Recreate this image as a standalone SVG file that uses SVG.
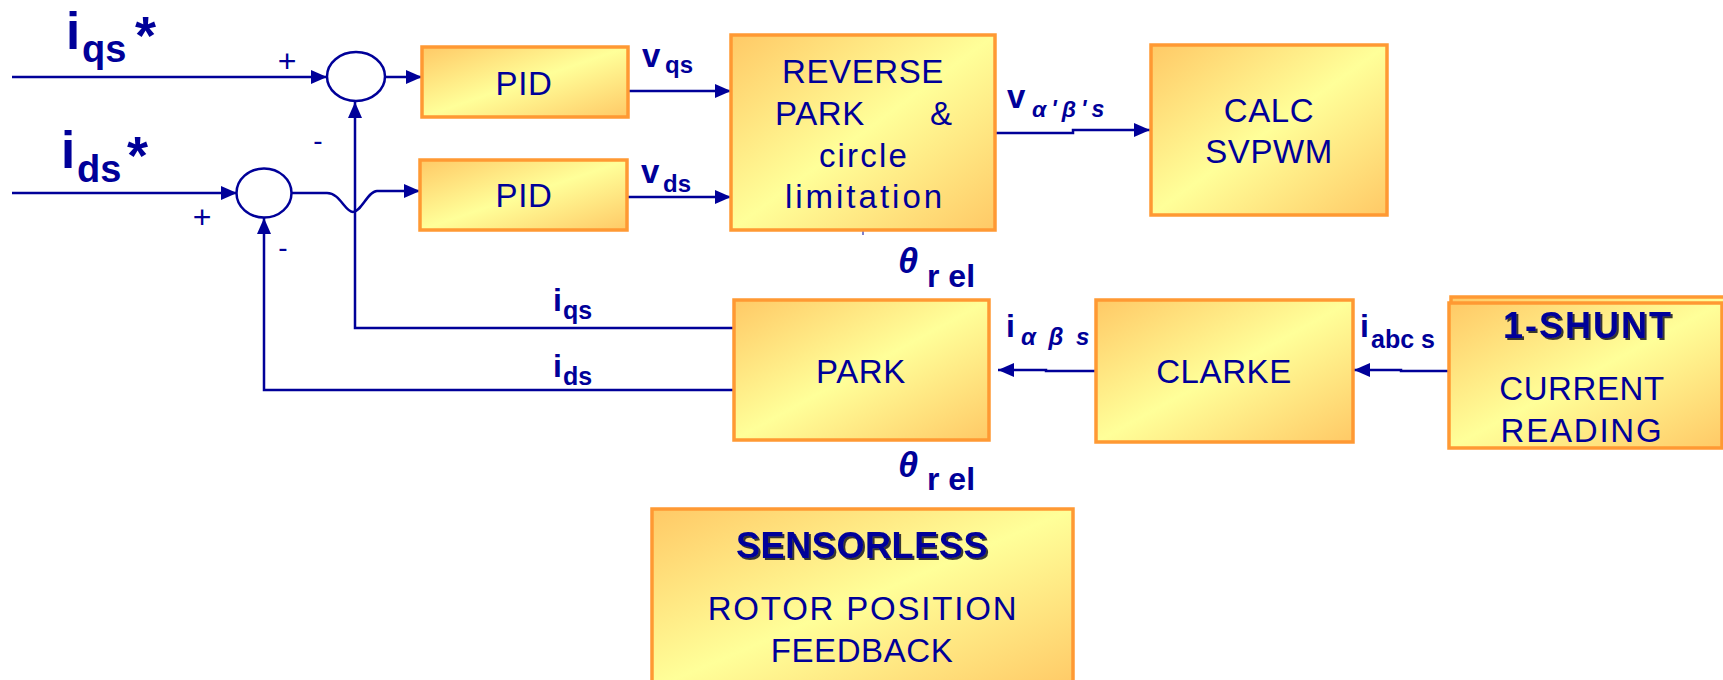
<svg xmlns="http://www.w3.org/2000/svg" width="1723" height="680" viewBox="0 0 1723 680">
<defs>
  <linearGradient id="g" x1="0" y1="0" x2="1" y2="1">
    <stop offset="0" stop-color="#FFC966"/>
    <stop offset="0.5" stop-color="#FFFF99"/>
    <stop offset="1" stop-color="#FFC966"/>
  </linearGradient>
  <marker id="ah" markerUnits="userSpaceOnUse" markerWidth="17" markerHeight="15" refX="16" refY="7" orient="auto">
    <path d="M0,0 L16,7 L0,14 z" fill="#000099"/>
  </marker>
  <filter id="sh" x="-5%" y="-10%" width="115%" height="140%">
    <feDropShadow dx="2" dy="2" stdDeviation="0.3" flood-color="#222222" flood-opacity="0.9"/>
  </filter>
</defs>
<style>
  .box{fill:url(#g);stroke:#FF9933;stroke-width:3.5}
  .lbl{font-family:"Liberation Sans",Arial,sans-serif;font-size:33px;letter-spacing:0.6px;fill:#000099;text-anchor:middle}
  .bold{font-weight:bold}
  .ln{fill:none;stroke:#000099;stroke-width:2.5}
  .ar{marker-end:url(#ah)}
  .sig{font-family:"Liberation Sans",Arial,sans-serif;font-weight:bold;fill:#000099}
  .sgn{font-family:"Liberation Sans",Arial,sans-serif;fill:#000099;text-anchor:middle}
  .sum{fill:#ffffff;stroke:#000099;stroke-width:2.5}
</style>
<rect width="1723" height="680" fill="#ffffff"/>

<g id="connectors">
  <path class="ln ar" d="M12,77 L327,77"/>
  <path class="ln ar" d="M385,77 L422,77"/>
  <path class="ln ar" d="M12,193 L237,193"/>
  <path class="ln ar" d="M292,193 L327,193 C340,193 345,212 353,212 C361,212 368,191 377,191 L420,191"/>
  <path class="ln ar" d="M628,91 L731,91"/>
  <path class="ln ar" d="M627,197 L731,197"/>
  <path class="ln ar" d="M995,133 L1073,133 L1073,130 L1150,130"/>
  <path class="ln ar" d="M734,328 L355,328 L355,102"/>
  <path class="ln ar" d="M734,390 L264,390 L264,218"/>
  <path class="ln ar" d="M1096,371 L1046,371 L1046,370 L998,370"/>
  <path class="ln ar" d="M1449,371 L1401,371 L1401,370 L1354,370"/>
  <path class="ln" style="stroke-width:1" d="M863,231 L863,235"/>
</g>

<g id="labels">
  <text class="sig"><tspan x="66" y="49" font-size="51">i</tspan><tspan x="82" y="62" font-size="38">qs</tspan><tspan x="135" y="54" font-size="54">*</tspan></text>
  <text class="sig"><tspan x="61" y="168" font-size="51">i</tspan><tspan x="77" y="182" font-size="38">ds</tspan><tspan x="127" y="174" font-size="54">*</tspan></text>
  <text class="sgn" x="287" y="72" font-size="32">+</text>
  <text class="sgn" x="202" y="228" font-size="32">+</text>
  <text class="sgn" x="318" y="150" font-size="28">-</text>
  <text class="sgn" x="283" y="257" font-size="28">-</text>
  <text class="sig"><tspan x="642" y="67" font-size="33">v</tspan><tspan x="665" y="73" font-size="24">qs</tspan></text>
  <text class="sig"><tspan x="641" y="183" font-size="33">v</tspan><tspan x="663" y="192" font-size="24">ds</tspan></text>
  <text class="sig"><tspan x="1007" y="108" font-size="33">v</tspan><tspan x="1032" y="117" font-size="23" font-style="italic" letter-spacing="5">α'β's</tspan></text>
  <text class="sig"><tspan x="553" y="311" font-size="32">i</tspan><tspan x="563" y="319" font-size="25">qs</tspan></text>
  <text class="sig"><tspan x="553" y="377" font-size="32">i</tspan><tspan x="563" y="385" font-size="25">ds</tspan></text>
  <text class="sig"><tspan x="1006" y="337" font-size="32">i</tspan><tspan x="1021" y="345" font-size="24" font-style="italic" letter-spacing="3">α β s</tspan></text>
  <text class="sig"><tspan x="1360" y="337" font-size="32">i</tspan><tspan x="1371" y="348" font-size="25">abc s</tspan></text>
  <text class="sig"><tspan x="898" y="273" font-size="36" font-style="italic">θ</tspan><tspan x="927" y="287" font-size="32">r el</tspan></text>
  <text class="sig"><tspan x="898" y="477" font-size="36" font-style="italic">θ</tspan><tspan x="927" y="490" font-size="32">r el</tspan></text>
</g>

<g id="sum1"><ellipse class="sum" cx="356" cy="76.5" rx="29" ry="24.5"/></g>
<g id="sum2"><ellipse class="sum" cx="264" cy="193" rx="27.5" ry="24.5"/></g>

<g id="pid_q">
  <rect class="box" x="422" y="47" width="206" height="70"/>
  <text class="lbl" x="524" y="95">PID</text>
</g>
<g id="pid_d">
  <rect class="box" x="420" y="160" width="207" height="70"/>
  <text class="lbl" x="524" y="207">PID</text>
</g>
<g id="reverse_park">
  <rect class="box" x="731" y="35" width="264" height="195"/>
  <text class="lbl" x="863" y="83">REVERSE</text>
  <text class="lbl" x="775" y="125" style="text-anchor:start">PARK</text>
  <text class="lbl" x="930" y="125" style="text-anchor:start">&amp;</text>
  <text class="lbl" x="864" y="167" style="letter-spacing:2.2px">circle</text>
  <text class="lbl" x="865" y="208" style="letter-spacing:3px">limitation</text>
</g>
<g id="calc_svpwm">
  <rect class="box" x="1151" y="45" width="236" height="170"/>
  <text class="lbl" x="1269" y="122">CALC</text>
  <text class="lbl" x="1269" y="163">SVPWM</text>
</g>
<g id="park">
  <rect class="box" x="734" y="300" width="255" height="140"/>
  <text class="lbl" x="861" y="383">PARK</text>
</g>
<g id="clarke">
  <rect class="box" x="1096" y="300" width="257" height="142"/>
  <text class="lbl" x="1224" y="383">CLARKE</text>
</g>
<g id="shunt">
  <rect class="box" x="1451" y="297" width="277" height="149"/>
  <rect class="box" x="1449" y="303" width="273" height="145"/>
  <text class="lbl bold" x="1588" y="338" style="font-size:36px;letter-spacing:2px" filter="url(#sh)">1-SHUNT</text>
  <text class="lbl" x="1582" y="400">CURRENT</text>
  <text class="lbl" x="1582" y="442" style="letter-spacing:1.8px">READING</text>
</g>
<g id="sensorless">
  <rect class="box" x="652" y="509" width="421" height="180"/>
  <text class="lbl bold" x="862" y="558" style="font-size:36px" filter="url(#sh)">SENSORLESS</text>
  <text class="lbl" x="863" y="620" style="letter-spacing:1.8px">ROTOR POSITION</text>
  <text class="lbl" x="862" y="662">FEEDBACK</text>
</g>
</svg>
